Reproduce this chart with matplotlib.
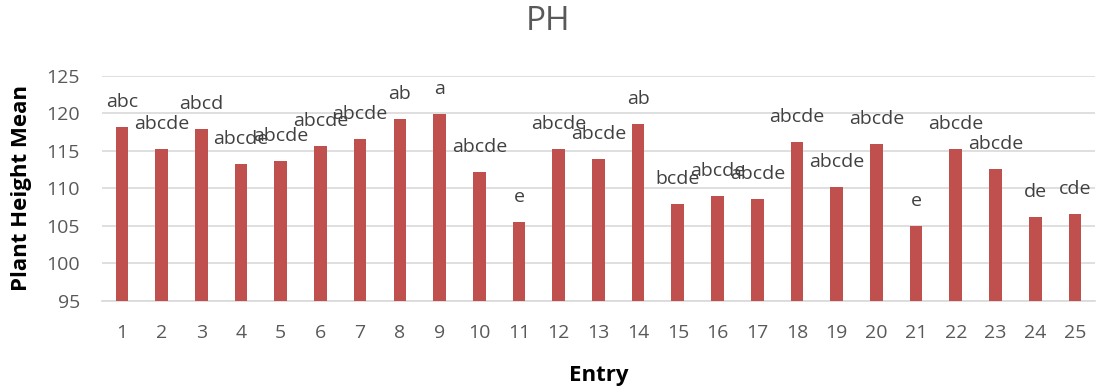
import numpy as np
import matplotlib.pyplot as plt

# values
entries = [str(i) for i in range(1, 26)]
ph_mean = [118.2, 115.2, 117.9, 113.2, 113.6, 115.6, 116.6, 119.2, 119.9, 112.2,
           105.5, 115.2, 113.9, 118.6, 107.9, 108.9, 108.6, 116.2, 110.2, 115.9,
           104.9, 115.2, 112.6, 106.2, 106.5]
letters = ['abc', 'abcde', 'abcd', 'abcde', 'abcde', 'abcde', 'abcde', 'ab', 'a', 'abcde',
           'e', 'abcde', 'abcde', 'ab', 'bcde', 'abcde', 'abcde', 'abcde', 'abcde', 'abcde',
           'e', 'abcde', 'abcde', 'de', 'cde']
y_ticks = [95, 100, 105, 110, 115, 120, 125]

plt.rcParams['font.family'] = ['Open Sans', 'DejaVu Sans']

fig = plt.figure(figsize=(10.97, 3.86), dpi=100)
ax = fig.add_axes([0.093, 0.221, 0.905, 0.583])

x = np.arange(len(entries))
bars = ax.bar(x, ph_mean, width=0.32, color='#C0504D', zorder=3)

# significance letters above each bar
for xi, v, lab in zip(x, ph_mean, letters):
    ax.annotate(lab, (xi, v), xytext=(0, 18), textcoords='offset points',
                ha='center', va='center', fontsize=14, color='#404040', zorder=4)

ax.set_ylim(95, 125)
ax.set_xlim(-0.5, len(entries) - 0.5)
ax.set_yticks(y_ticks)
ax.set_xticks(x)
ax.set_xticklabels(entries)
ax.yaxis.grid(True, color='#D9D9D9', linewidth=1.2, zorder=0)
for s in ['top', 'right', 'left']:
    ax.spines[s].set_visible(False)
ax.spines['bottom'].set_color('#D9D9D9')
ax.spines['bottom'].set_linewidth(1.2)
ax.tick_params(axis='both', length=0, labelsize=14, labelcolor='#595959')
ax.tick_params(axis='x', pad=17)
ax.tick_params(axis='y', pad=16)

ax.set_xlabel('Entry', fontsize=16, fontweight='bold', color='black', labelpad=16)
ax.set_ylabel('Plant Height Mean', fontsize=16, fontweight='bold', color='black', labelpad=10)
fig.text(0.5, 0.945, 'PH', ha='center', va='center', fontsize=24, color='#595959')

fig.savefig('out.png', dpi=100)
